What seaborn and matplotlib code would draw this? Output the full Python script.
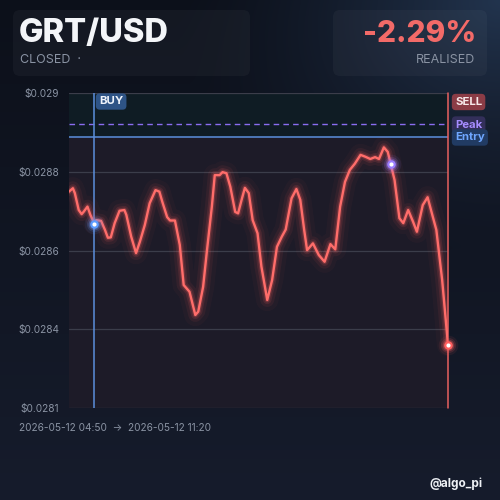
import numpy as np
import pandas as pd
import matplotlib
matplotlib.use("Agg")
import matplotlib.pyplot as plt
from matplotlib.patches import FancyBboxPatch
import seaborn as sns

# ---------------- data ----------------
pair = "GRT/USD"
status = "CLOSED  ·"
pnl_text = "-2.29%"
pnl_label = "REALISED"
time_range = "2026-05-12 04:50  →  2026-05-12 11:20"
handle = "@algo_pi"

# minutes since 04:50
minutes = [0, 4, 6, 10, 13, 15, 19, 22, 26, 28, 33, 37, 40, 43, 47, 52, 57, 59,
           64, 69, 73, 78, 83, 89, 93, 96, 101, 104, 109, 114, 118, 124, 130,
           133, 138, 142, 147, 150, 155, 158, 162, 166, 171, 174, 178, 181,
           185, 189, 194, 198, 204, 209, 214, 219, 223, 229, 234, 238, 242,
           245, 251, 257, 263, 269, 274, 279, 284, 289, 294, 300, 305, 310,
           315, 319, 324, 328, 331, 335, 340, 344, 349, 354, 358, 364, 369,
           373, 378, 384, 390]
prices = [0.028722, 0.028731, 0.028718, 0.028673, 0.028662, 0.028668, 0.028682,
          0.028660, 0.028637, 0.028646, 0.028644, 0.028620, 0.028599, 0.028600,
          0.028638, 0.028671, 0.028673, 0.028660, 0.028602, 0.028558, 0.028589,
          0.028633, 0.028691, 0.028726, 0.028722, 0.028695, 0.028654, 0.028645,
          0.028645, 0.028580, 0.028473, 0.028455, 0.028393, 0.028402, 0.028468,
          0.028566, 0.028682, 0.028766, 0.028766, 0.028774, 0.028771, 0.028735,
          0.028668, 0.028664, 0.028704, 0.028732, 0.028718, 0.028646, 0.028611,
          0.028522, 0.028433, 0.028486, 0.028575, 0.028602, 0.028621, 0.028704,
          0.028729, 0.028700, 0.028620, 0.028566, 0.028584, 0.028553, 0.028535,
          0.028582, 0.028568, 0.028682, 0.028748, 0.028780, 0.028796, 0.028820,
          0.028815, 0.028809, 0.028814, 0.028809, 0.028840, 0.028828, 0.028796,
          0.028753, 0.028651, 0.028638, 0.028673, 0.028642, 0.028615, 0.028686,
          0.028707, 0.028668, 0.028620, 0.028486, 0.028313]

buy_minute, buy_price = 26, 0.028637
peak_minute, peak_price = 331, 0.028796
sell_minute, sell_price = 390, 0.028313
entry_level = 0.028868
peak_level = 0.028902

y_min, y_max = 0.028145, 0.028985
y_ticks = [0.028145, 0.028355, 0.028565, 0.028775, 0.028985]
y_tick_labels = ["$0.0281", "$0.0284", "$0.0286", "$0.0288", "$0.029"]
x_min, x_max = 0, 390

df = pd.DataFrame({"minute": minutes, "price": prices})

# ---------------- style ----------------
sns.set_theme(style="dark")
plt.rcParams["font.family"] = ["Inter", "DejaVu Sans"]

W = H = 500
fig = plt.figure(figsize=(5, 5), dpi=100)

# background gradient
bg_ax = fig.add_axes([0, 0, 1, 1], zorder=-10)
yy, xx = np.mgrid[0:H, 0:W]
top = np.array([12, 16, 26]) / 255
bot = np.array([22, 28, 44]) / 255
t = (yy / H)[..., None]
img = top * (1 - t) + bot * t
d = np.sqrt((xx - W) ** 2 + (yy * 1.3) ** 2)
glow = np.clip(1 - d / 330, 0, 1)[..., None] ** 1.5
img = img + glow * (np.array([34, 52, 78]) / 255 - top)
bg_ax.imshow(np.clip(img, 0, 1), extent=[0, W, H, 0], aspect="auto")
bg_ax.set_xlim(0, W)
bg_ax.set_ylim(H, 0)
bg_ax.axis("off")

# header cards
for (x0, x1) in [(13, 250), (333, 487)]:
    card = FancyBboxPatch((x0, 10), x1 - x0, 66, boxstyle="round,pad=0,rounding_size=7",
                          transform=bg_ax.transData, facecolor=(1, 1, 1, 0.035),
                          edgecolor="none")
    bg_ax.add_patch(card)

bg_ax.text(19, 34, pair, fontsize=23.5, fontweight="heavy", color="#f3f5f8",
           va="center", ha="left")
bg_ax.text(20, 60, status, fontsize=9, color="#8a93a3", va="center", ha="left")
bg_ax.text(476, 34, pnl_text, fontsize=21.5, fontweight="heavy", color="#f26a68",
           va="center", ha="right")
bg_ax.text(475, 60, pnl_label, fontsize=9, color="#8a93a3", va="center", ha="right")
bg_ax.text(19, 428, time_range, fontsize=7.3, color="#8a93a3", va="center", ha="left")
bg_ax.text(482, 484, handle, fontsize=8.5, fontweight="bold", color="#eef1f5",
           va="center", ha="right")

# main axes
ax = fig.add_axes([69 / W, 1 - 408 / H, 379 / W, 315 / H])
ax.set_facecolor("#1d1b28")
ax.set_xlim(x_min, x_max)
ax.set_ylim(y_min, y_max)

# zone above entry
ax.axhspan(entry_level, y_max, color="#0f1c24", zorder=0.5, lw=0)

for yt in y_ticks:
    ax.axhline(yt, color="#3b3d4a", lw=0.9, zorder=1)

ax.set_yticks(y_ticks)
ax.set_yticklabels(y_tick_labels)
ax.set_xticks([])
ax.tick_params(axis="y", colors="#8a93a3", labelsize=7.3, length=0, pad=7)
for s in ax.spines.values():
    s.set_visible(False)
ax.grid(False)

# entry / peak lines
ax.axhline(entry_level, color="#5b8fdc", lw=1.1, zorder=2)
ax.axhline(peak_level, color="#8a6df0", lw=1.0, ls=(0, (4, 3)), zorder=2)

# buy / sell verticals
ax.axvline(buy_minute, color="#5b8fdc", lw=1.1, zorder=2)
ax.axvline(sell_minute, color="#e8615f", lw=1.1, zorder=2, clip_on=False)

# glow
for lw, a in [(16, 0.035), (10, 0.07), (6, 0.12), (3.5, 0.22)]:
    sns.lineplot(data=df, x="minute", y="price", ax=ax, color="#ff5f5f",
                 lw=lw, alpha=a, legend=False, zorder=3,
                 solid_joinstyle="round", solid_capstyle="round")
sns.lineplot(data=df, x="minute", y="price", ax=ax, color="#ff6d6a", lw=1.7,
             legend=False, zorder=4, solid_joinstyle="round", solid_capstyle="round")
ax.set_xlabel("")
ax.set_ylabel("")
ax.set_xticks([])


def marker(xv, yv, color):
    for s, a in [(200, 0.08), (120, 0.15), (70, 0.3)]:
        ax.scatter([xv], [yv], s=s, color=color, alpha=a, lw=0, zorder=5, clip_on=False)
    ax.scatter([xv], [yv], s=38, color=color, lw=0, zorder=6, clip_on=False)
    ax.scatter([xv], [yv], s=9, color="white", lw=0, zorder=7, clip_on=False)


marker(buy_minute, buy_price, "#5b9bff")
marker(peak_minute, peak_price, "#9b7dff")
marker(sell_minute, sell_price, "#ff5f5f")

# overlay for tags
ov = fig.add_axes([0, 0, 1, 1], zorder=20)
ov.set_xlim(0, W)
ov.set_ylim(H, 0)
ov.axis("off")
ov.patch.set_alpha(0)


def tag(xpix, ypix, text, fc, tc):
    ov.text(xpix, ypix, text, fontsize=8.2, fontweight="bold",
            color=tc, va="center", ha="left", zorder=20,
            bbox=dict(boxstyle="round,pad=0.28,rounding_size=0.35", fc=fc, ec="none"))


tag(99, 101.5, "BUY", "#2e5486", "#eef3fb")
tag(455, 102, "SELL", "#8b3c46", "#f7e9ea")
tag(455, 124.5, "Peak", "#332f5a", "#a68cff")
tag(455, 137.5, "Entry", "#213b63", "#6fa7ff")

fig.savefig("out.png", dpi=100)
